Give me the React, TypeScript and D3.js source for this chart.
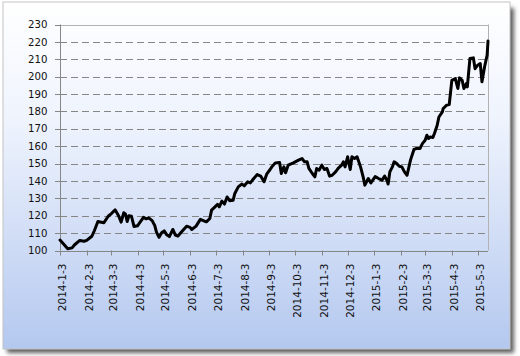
import React from "react";
import * as d3 from "d3";

const dates: string[] = [
  "2014-01-03","2014-01-12","2014-01-17","2014-01-20","2014-01-26","2014-01-31","2014-02-03","2014-02-09","2014-02-12","2014-02-16",
  "2014-02-20","2014-02-23","2014-02-28","2014-03-04","2014-03-08","2014-03-12","2014-03-15","2014-03-18","2014-03-20","2014-03-22",
  "2014-03-24","2014-03-27","2014-03-30","2014-04-03","2014-04-06","2014-04-10","2014-04-13","2014-04-16","2014-04-20","2014-04-23",
  "2014-04-25","2014-04-28","2014-05-01","2014-05-04","2014-05-07","2014-05-10","2014-05-14","2014-05-17","2014-05-20","2014-05-24",
  "2014-05-30","2014-06-03","2014-06-05","2014-06-10","2014-06-15","2014-06-19","2014-06-22","2014-06-26","2014-06-28","2014-07-02",
  "2014-07-05","2014-07-07","2014-07-10","2014-07-13","2014-07-16","2014-07-19","2014-07-23","2014-07-25","2014-07-29","2014-08-02",
  "2014-08-05","2014-08-09","2014-08-12","2014-08-16","2014-08-20","2014-08-24","2014-08-28","2014-08-31","2014-09-04","2014-09-06",
  "2014-09-10","2014-09-15","2014-09-17","2014-09-20","2014-09-22","2014-09-25","2014-10-01","2014-10-07","2014-10-11","2014-10-14",
  "2014-10-17","2014-10-19","2014-10-23","2014-10-26","2014-10-28","2014-10-31","2014-11-03","2014-11-06","2014-11-09","2014-11-12",
  "2014-11-15","2014-11-19","2014-11-22","2014-11-26","2014-11-28","2014-11-30","2014-12-03","2014-12-06","2014-12-08","2014-12-11",
  "2014-12-14","2014-12-18","2014-12-21","2014-12-23","2014-12-27","2014-12-30","2015-01-04","2015-01-08","2015-01-12","2015-01-15",
  "2015-01-18","2015-01-19","2015-01-21","2015-01-24","2015-01-26","2015-01-29","2015-02-01","2015-02-04","2015-02-07","2015-02-10",
  "2015-02-14","2015-02-18","2015-02-21","2015-02-25","2015-02-28","2015-03-03","2015-03-05","2015-03-07","2015-03-09","2015-03-12",
  "2015-03-14","2015-03-17","2015-03-19","2015-03-23","2015-03-24","2015-03-28","2015-03-31","2015-04-03","2015-04-07","2015-04-10",
  "2015-04-12","2015-04-15","2015-04-17","2015-04-20","2015-04-21","2015-04-24","2015-04-28","2015-04-30","2015-05-03","2015-05-06",
  "2015-05-08","2015-05-11","2015-05-14","2015-05-15",
];

const values: number[] = [
  106, 101, 101.5, 103.3, 105.8, 105.3, 105.8, 108.2, 111.5, 116.7,
  116.3, 116, 119.7, 121.4, 123.4, 120, 116.3, 121.7, 121, 116.7,
  120, 119.7, 113.8, 114.2, 116.3, 119.1, 118.2, 118.8, 117.2, 114.4,
  110.6, 107.6, 110.2, 111.3, 109, 108, 112.1, 108.9, 108.3, 110.6,
  114, 113.3, 112.1, 114, 117.9, 117.1, 116.5, 118.4, 123.2, 125.1,
  126.6, 125.1, 128.4, 126.7, 130.8, 128.6, 128.9, 132.8, 136.6, 138.2,
  137.2, 139.5, 138.9, 141.4, 143.7, 142.8, 139.5, 143.9, 146.6, 148.1,
  150.4, 150.6, 144.3, 148.1, 144.7, 149.1, 150.4, 152, 152.9, 151,
  151, 147.2, 144.3, 142.4, 147.2, 146.2, 149.1, 146.6, 147.2, 142.8,
  143.3, 145.2, 147.2, 149.1, 151, 148.1, 153.9, 146.6, 153.9, 152.9,
  153.9, 148.1, 142.4, 137.6, 141.4, 138.9, 142.5, 141.4, 140.5, 142.8,
  140, 138.2, 145.2, 148.1, 151, 150, 148.5, 148.1, 145.2, 143.3,
  152, 158.1, 158.7, 158.7, 161.6, 163.4, 166.3, 164.4, 165.3, 165,
  167.6, 172.1, 176.8, 179.7, 181.7, 183.6, 184, 197.9, 198.9, 193.2,
  199.3, 197.9, 193.2, 196.1, 194.1, 210.4, 210.8, 204.6, 206.6, 207.5,
  197, 205.6, 212.4, 220.5,
];

const xTickLabels: string[] = [
  "2014-1-3","2014-2-3","2014-3-3","2014-4-3","2014-5-3","2014-6-3","2014-7-3","2014-8-3","2014-9-3",
  "2014-10-3","2014-11-3","2014-12-3","2015-1-3","2015-2-3","2015-3-3","2015-4-3","2015-5-3",
];

const yTicks: number[] = [100, 110, 120, 130, 140, 150, 160, 170, 180, 190, 200, 210, 220, 230];

const xDomain: string[] = ["2014-1-3", "2015-5-15"];

const parse = (s: string) => {
  const [y, m, d] = s.split("-").map(Number);
  return new Date(y, m - 1, d);
};

export default function App() {
  const left = 60, right = 488, top = 24.5, bottom = 250.5;
  const x = d3.scaleTime().domain(xDomain.map(parse)).range([left, right]);
  const y = d3.scaleLinear().domain([100, 230]).range([bottom, top]);
  const pts: [Date, number][] = dates.map((d, i) => [parse(d), values[i]]);
  const line = d3
    .line<[Date, number]>()
    .x((d) => x(d[0]))
    .y((d) => y(d[1]));
  const font = "'DejaVu Sans', Verdana, sans-serif";

  return (
    <svg
      width={520}
      height={356}
      style={{ position: "absolute", left: 0, top: 0 }}
      xmlns="http://www.w3.org/2000/svg"
    >
      <defs>
        <linearGradient id="bg" x1="0" y1="0" x2="0" y2="1">
          <stop offset="0" stopColor="#ffffff" />
          <stop offset="0.35" stopColor="#eef3fd" />
          <stop offset="1" stopColor="#b4c8ef" />
        </linearGradient>
        <filter id="sh" x="-5%" y="-5%" width="115%" height="115%">
          <feGaussianBlur stdDeviation="2" />
        </filter>
      </defs>
      <rect x={0} y={0} width={520} height={356} fill="#ffffff" />
      <rect x={7} y={8} width={507} height={345} fill="#5f5f5f" filter="url(#sh)" />
      <rect x={3} y={2} width={507} height={347} fill="url(#bg)" stroke="#c4c4c4" strokeWidth={1} />

      {/* gridlines */}
      {yTicks.filter((t) => t > 100 && t < 230).map((t) => (
        <line
          key={"g" + t}
          x1={left}
          x2={right}
          y1={Math.round(y(t)) + 0.5}
          y2={Math.round(y(t)) + 0.5}
          stroke="#868686"
          strokeWidth={1}
          strokeDasharray="7,4"
        />
      ))}
      {/* plot border top/right */}
      <line x1={left} x2={right} y1={Math.round(y(230)) + 0.5} y2={Math.round(y(230)) + 0.5} stroke="#b2b2b2" />
      <line x1={right + 0.5} x2={right + 0.5} y1={y(230)} y2={y(100)} stroke="#b2b2b2" />

      {/* y axis */}
      <line x1={left + 0.5} x2={left + 0.5} y1={y(230)} y2={y(100)} stroke="#868686" />
      {yTicks.map((t) => (
        <g key={"y" + t}>
          <line x1={left - 5} x2={left} y1={Math.round(y(t)) + 0.5} y2={Math.round(y(t)) + 0.5} stroke="#868686" />
          <text
            x={47.5}
            y={y(t)}
            dy="0.36em"
            textAnchor="end"
            fontFamily={font}
            fontSize={10.2}
            fill="#111"
          >
            {t}
          </text>
        </g>
      ))}

      {/* x axis */}
      <line x1={left} x2={right} y1={Math.round(y(100)) + 0.5} y2={Math.round(y(100)) + 0.5} stroke="#868686" />
      {xTickLabels.map((l) => {
        const xx = Math.round(x(parse(l))) + 0.5;
        return (
          <g key={"x" + l}>
            <line x1={xx} x2={xx} y1={y(100)} y2={y(100) + 5} stroke="#868686" />
            <text
              transform={`translate(${xx + 1.5},${y(100) + 13}) rotate(-90)`}
              dy="0.36em"
              textAnchor="end"
              fontFamily={font}
              fontSize={10.5}
              fill="#111"
            >
              {l}
            </text>
          </g>
        );
      })}

      {/* series */}
      <path
        d={line(pts) || ""}
        fill="none"
        stroke="#000000"
        strokeWidth={3}
        strokeLinejoin="round"
        strokeLinecap="round"
      />
    </svg>
  );
}
